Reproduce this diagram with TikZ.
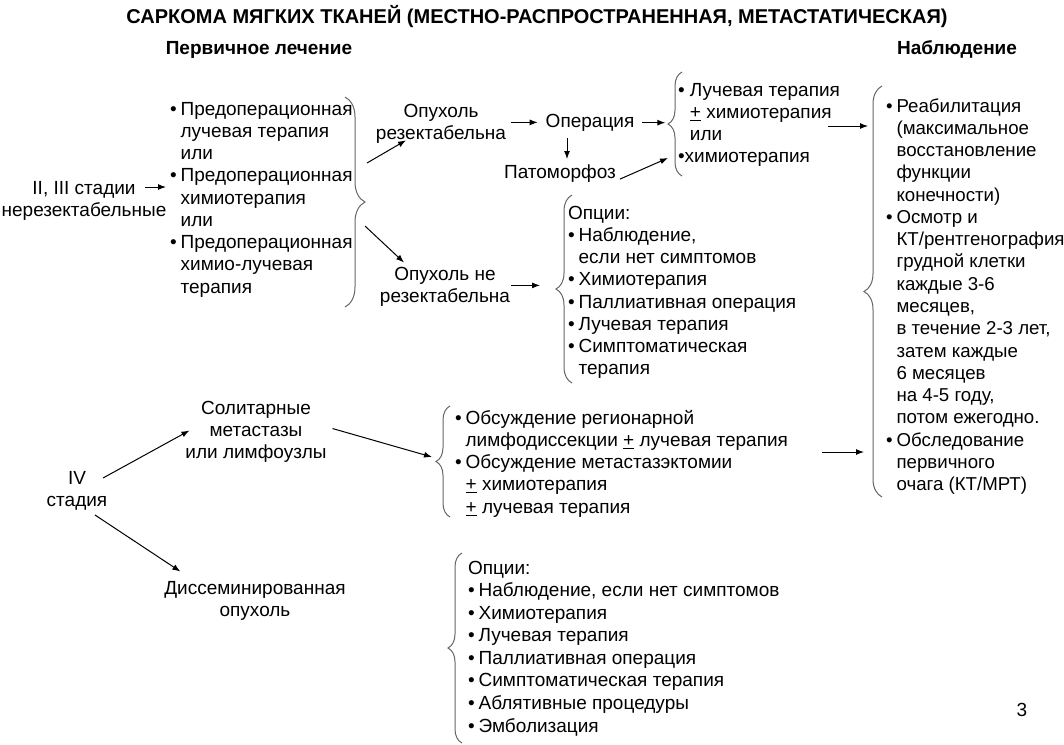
\documentclass[tikz,border=0pt]{standalone}
\usepackage{fontspec}
\setmainfont{Liberation Sans}
\usetikzlibrary{arrows.meta,decorations.pathreplacing,calc}
\newcommand{\bu}{•\kern3pt}
\newcommand{\ii}{\hphantom{•}\kern3pt}
\newcommand{\plm}{\underline{+}}
\begin{document}
\begin{tikzpicture}[x=0.75pt,y=-0.75pt,
  every node/.style={inner sep=0pt,outer sep=0pt,font=\fontsize{14.25}{16.7}\selectfont},
  txt/.style={align=left,anchor=north west},
  ctr/.style={align=center,anchor=north},
  hdr/.style={anchor=north,font=\fontsize{14.25}{16.7}\selectfont\bfseries},
  arr/.style={draw=black,line width=0.75pt,-{Latex[length=6pt,width=4.5pt]}},
  brc/.style={draw=black!60,line width=0.75pt,decorate,decoration={brace,amplitude=#1,aspect=0.5}},
]
\useasboundingbox (0,0) rectangle (1064,744);

% headings
\node[hdr,font=\fontsize{15}{16.7}\selectfont\bfseries] (title) at (537,5.5) {\strut САРКОМА МЯГКИХ ТКАНЕЙ (МЕСТНО-РАСПРОСТРАНЕННАЯ, МЕТАСТАТИЧЕСКАЯ)};
\node[hdr] (h1) at (259,38.5) {\strut Первичное лечение};
\node[hdr] (h2) at (957,38.5) {\strut Наблюдение};

% text blocks
\node[ctr] (st) at (84,179) {\strut II, III стадии\\нерезектабельные};
\node[txt] (pre) at (170,99.5) {\strut\bu Предоперационная\\\ii лучевая терапия\\\ii или\\\bu Предоперационная\\\ii химиотерапия\\\ii или\\\bu Предоперационная\\\ii химио-лучевая\\\ii терапия};
\node[ctr] (res) at (441,101.5) {\strut Опухоль\\резектабельна};
\node[anchor=north] (op) at (590,111.5) {\strut Операция};
\node[anchor=north] (pat) at (560,163) {\strut Патоморфоз};
\node[txt] (b2) at (678,80.5) {\strut• Лучевая терапия\\\hphantom{•\ }\plm{} химиотерапия\\\hphantom{•\ }или\\•химиотерапия};
\node[txt,font=\fontsize{14}{16.7}\selectfont] (b3) at (886,96.5) {\strut\bu Реабилитация\\\ii(максимальное\\\ii восстановление\\\ii функции\\\ii конечности)\\\bu Осмотр и\\\ii КТ/рентгенография\\\ii грудной клетки\\\ii каждые 3-6\\\ii месяцев,\\\ii в течение 2-3 лет,\\\ii затем каждые\\\ii 6 месяцев\\\ii на 4-5 году,\\\ii потом ежегодно.\\\bu Обследование\\\ii первичного\\\ii очага (КТ/МРТ)};
\node[ctr] (nres) at (445,264.5) {\strut Опухоль не\\резектабельна};
\node[txt] (b4) at (568,203.5) {\strut Опции:\\\bu Наблюдение,\\\ii если нет симптомов\\\bu Химиотерапия\\\bu Паллиативная операция\\\bu Лучевая терапия\\\bu Симптоматическая\\\ii терапия};
\node[ctr] (iv) at (77,468.5) {\strut IV\\стадия};
\node[ctr] (sol) at (256,398.5) {\strut Солитарные\\метастазы\\или лимфоузлы};
\node[txt] (b5) at (455,408.5) {\strut\bu Обсуждение регионарной\\\ii лимфодиссекции \plm{} лучевая терапия\\\bu Обсуждение метастазэктомии\\\ii\plm{} химиотерапия\\\ii\plm{} лучевая терапия};
\node[ctr] (dis) at (255,578.5) {\strut Диссеминированная\\опухоль};
\node[txt,font=\fontsize{14.25}{16.9}\selectfont] (b6) at (468,558.5) {\strut Опции:\\\bu Наблюдение, если нет симптомов\\\bu Химиотерапия\\\bu Лучевая терапия\\\bu Паллиативная операция\\\bu Симптоматическая терапия\\\bu Аблятивные процедуры\\\bu Эмболизация};
\node[anchor=north] (pg) at (1022,700.5) {\strut 3};

% braces
\draw[brc=15pt] (345,97) -- (345,307);
\draw[brc=10.5pt] (682,176) -- (682,72);
\draw[brc=13.5pt] (882,497) -- (882,86);
\draw[brc=12pt] (572,383) -- (572,195);
\draw[brc=10.5pt] (450,517) -- (450,406);
\draw[brc=10.5pt] (462,743) -- (462,553);
\coordinate (t1) at (365,205);
\coordinate (t2) at (668,124);
\coordinate (t3) at (864,292);
\coordinate (t4) at (556,289);
\coordinate (t5) at (436,462);
\coordinate (t6) at (448,648);

% free ends of connectors
\coordinate (s1) at (145,187);
\coordinate (e2) at (828,126);
\coordinate (e5) at (822,452);
\coordinate (v1) at (103,478);
\coordinate (v2) at (95,515);

% connectors
\draw[arr,shorten >=3pt] (s1) -- (s1 -| pre.west);
\draw[arr] ($(t1)+(2,-42)$) -- ($(res.south west)+(30,-3)$);
\draw[arr] ($(t1)+(0,21)$) -- ($(nres.north west)+(24,-2)$);
\draw[arr,shorten <=3.5pt,shorten >=6pt] (res.east) -- (res.east -| op.west);
\draw[arr,shorten <=6pt,shorten >=2pt] (op.east) -- (op.east -| t2);
\draw[arr,shorten <=3pt,shorten >=3pt] ($(op.south)+(-23,0)$) coordinate (d1) -- (d1 |- pat.north);
\draw[arr] ($(pat.east)+(4,5)$) -- ($(t2)+(0,34)$);
\draw[arr] (e2) -- ($(e2 -| t3)+(4,0)$);
\draw[arr,shorten <=1pt,shorten >=12pt] (nres.east) -- (nres.east -| t4);
\draw[arr] (v1) -- ($(sol.north west)+(4,32)$);
\draw[arr] ($(sol.east)+(6,-2)$) -- ($(t5)+(-4,-5)$);
\draw[arr] (e5) -- (e5 -| t3);
\draw[arr] (v2) -- ($(dis.north west)+(16,-7)$);
\end{tikzpicture}
\end{document}
